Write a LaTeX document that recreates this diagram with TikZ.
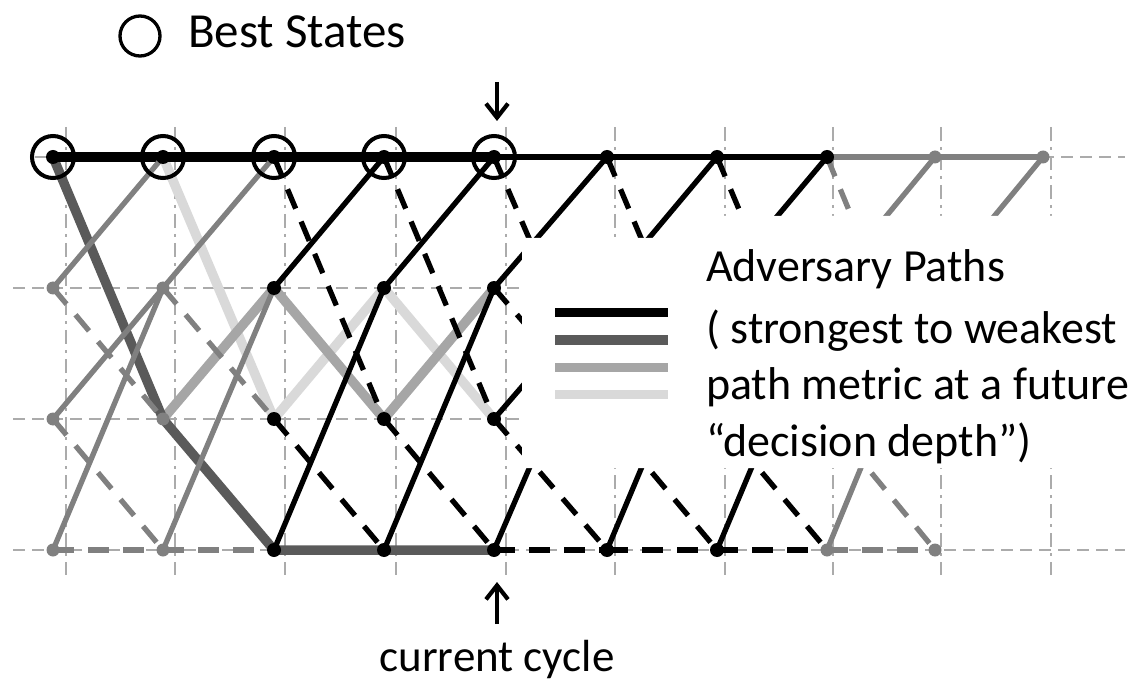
\documentclass[tikz,border=0pt]{standalone}
\usepackage{fontspec}
\setmainfont{Carlito}
\usetikzlibrary{arrows.meta}
\definecolor{edgegray}{HTML}{808080}
\definecolor{advdark}{HTML}{5A5A5A}
\definecolor{advmid}{HTML}{A6A6A6}
\definecolor{advlight}{HTML}{D9D9D9}
\definecolor{gridgray}{HTML}{ABABAB}

\begin{document}
\begin{tikzpicture}[x=1pt,y=-1pt,
  hgrid/.style={draw=gridgray, line width=2.6pt, dash pattern=on 12pt off 7pt},
  vgrid/.style={draw=gridgray, line width=2.6pt, dash pattern=on 14pt off 6pt on 3pt off 6pt},
  trel/.style={line width=5.3pt},
  dashtrel/.style={line width=5.3pt, dash pattern=on 21pt off 14pt},
  adv/.style={line width=9.5pt, line join=round},
  tdot/.style={circle, fill=#1, inner sep=0pt, minimum size=14pt},
  bestring/.style={circle, draw=black, line width=4pt, minimum size=42pt, inner sep=0pt},
  txt/.style={font=\fontsize{46}{55}\selectfont, inner sep=0pt},
  legbar/.style={line width=9pt},
  cyclearrow/.style={line width=4.2pt, -{Straight Barb[length=14pt,width=22pt,line width=4.2pt]}}
]
\useasboundingbox (0,0) rectangle (1129,684);

% trellis state positions: column c, state row r
\foreach \c/\x in {0/53,1/163,2/274,3/384,4/494,5/607,6/717,7/827,8/935,9/1043}
  \foreach \r/\y in {0/157,1/288,2/419,3/550}
    \coordinate (p-\c-\r) at (\x,\y);

% background grid
\draw[hgrid] (35,157) -- (1125,157);
\foreach \y in {288,419,550}
  \draw[hgrid] (13,\y) -- (1125,\y);
\foreach \x in {66,175,285,396,506,615,725,833,941,1051}
  \draw[vgrid] (\x,127) -- (\x,575);

% adversary paths, weakest first
\draw[adv, advlight] (p-1-0) -- (p-2-2) -- (p-3-1) -- (p-4-2);
\draw[adv, advmid] (p-1-2) -- (p-2-1) -- (p-3-2) -- (p-4-1);
\draw[adv, advdark] (p-0-0) -- (p-1-2) -- (p-2-3) -- (p-3-3) -- (p-4-3);
\draw[adv, black, line width=10.5pt] (p-0-0) -- (p-4-0);

% section 0 -> 1 (gray)
\draw[trel, edgegray] (p-0-1) -- (p-1-0);
\draw[trel, edgegray] (p-0-2) -- (p-1-1);
\draw[trel, edgegray] (p-0-3) -- (p-1-1);
\draw[dashtrel, edgegray] (p-0-1) -- (p-1-2);
\draw[dashtrel, edgegray] (p-0-2) -- (p-1-3);
\draw[dashtrel, edgegray] (p-0-3) -- (p-1-3);

% section 1 -> 2 (gray)
\draw[trel, edgegray] (p-1-1) -- (p-2-0);
\draw[trel, edgegray] (p-1-3) -- (p-2-1);
\draw[dashtrel, edgegray] (p-1-1) -- (p-2-2);
\draw[dashtrel, edgegray] (p-1-3) -- (p-2-3);

% section 2 -> 3
\draw[trel] (p-2-1) -- (p-3-0);
\draw[trel] (p-2-3) -- (p-3-1);
\draw[dashtrel] (p-2-0) -- (p-3-2);
\draw[dashtrel] (p-2-2) -- (p-3-3);

% section 3 -> 4
\draw[trel] (p-3-1) -- (p-4-0);
\draw[trel] (p-3-3) -- (p-4-1);
\draw[dashtrel] (p-3-0) -- (p-4-2);
\draw[dashtrel] (p-3-2) -- (p-4-3);

% full sections 4 -> 7 (black) and 7 -> 8 (gray)
\foreach \s/\t/\col in {4/5/black,5/6/black,6/7/black,7/8/edgegray} {
  \draw[trel, \col] (p-\s-0) -- (p-\t-0);
  \draw[trel, \col] (p-\s-1) -- (p-\t-0);
  \draw[trel, \col] (p-\s-2) -- (p-\t-1);
  \draw[trel, \col] (p-\s-3) -- (p-\t-1);
  \draw[dashtrel, \col] (p-\s-0) -- (p-\t-2);
  \draw[dashtrel, \col] (p-\s-1) -- (p-\t-2);
  \draw[dashtrel, \col] (p-\s-2) -- (p-\t-3);
  \draw[dashtrel, \col] (p-\s-3) -- (p-\t-3);
}
% last section (gray)
\draw[trel, edgegray] (p-8-0) -- (p-9-0);
\draw[trel, edgegray] (p-8-1) -- (p-9-0);

% state dots
\foreach \c in {0,...,7}
  \node[tdot=black] (s-\c-0) at (p-\c-0) {};
\foreach \c in {0,1}
  \foreach \r in {1,2,3}
    \node[tdot=edgegray, minimum size=13pt] (s-\c-\r) at (p-\c-\r) {};
\foreach \c in {2,...,6}
  \foreach \r in {1,2,3}
    \node[tdot=black] (s-\c-\r) at (p-\c-\r) {};
\foreach \r in {1,2,3}
  \node[tdot=edgegray, minimum size=13pt] (s-7-\r) at (p-7-\r) {};
\foreach \r in {0,1,2,3}
  \node[tdot=edgegray, minimum size=13pt] (s-8-\r) at (p-8-\r) {};
\node[tdot=edgegray, minimum size=13pt] (s-9-0) at (p-9-0) {};

% best states
\foreach \c in {0,...,4}
  \node[bestring] (b-\c) at (p-\c-0) {};

% legend panel
\fill[white] (522,238) -- (690,238) -- (690,216) -- (1129,216)
  -- (1129,468) -- (522,468) -- cycle;
\draw[legbar, black]    (555,313) -- (668,313);
\draw[legbar, advdark]  (555,340) -- (668,340);
\draw[legbar, advmid]   (555,367) -- (668,367);
\draw[legbar, advlight] (555,394) -- (668,394);
\node[txt, anchor=base west] (legtitle) at (706,282) {Adversary Paths};
\node[txt, anchor=base west] (legl1) at (706,343) {( strongest to weakest};
\node[txt, anchor=base west] (legl2) at (706,399) {path metric at a future};
\node[txt, anchor=base west] (legl3) at (706,456) {“decision depth”)};

% best state key
\node[bestring, line width=3.3pt, minimum size=40pt] (bestkey) at (140,36) {};
\node[txt, anchor=base west, font=\fontsize{49}{58}\selectfont] (besttxt) at (188,48) {Best States};

% current cycle markers
\coordinate (dnA) at (497,82);
\coordinate (dnB) at (497,121);
\draw[cyclearrow] (dnA) -- (dnB);
\coordinate (upA) at (497,624);
\coordinate (upB) at (497,582);
\draw[cyclearrow] (upA) -- (upB);
\node[txt, anchor=base, font=\fontsize{45}{54}\selectfont] (cyctxt) at (497,671) {current cycle};
\end{tikzpicture}
\end{document}
